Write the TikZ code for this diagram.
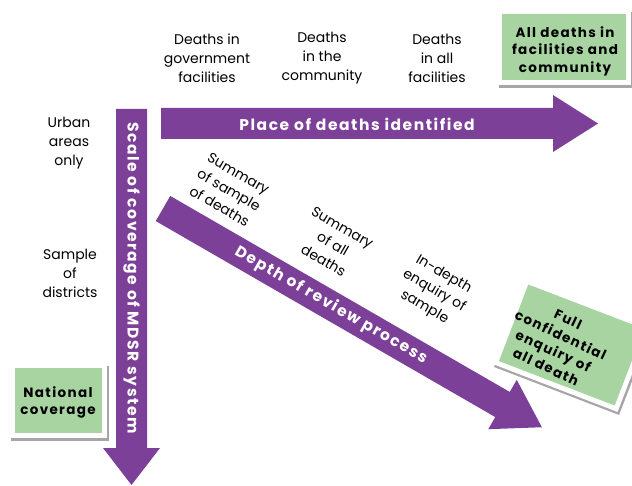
\documentclass[tikz,border=0pt]{standalone}
\usepackage{fontspec}
\setmainfont{Poppins}
\newfontfamily\spacedbold{Poppins}[LetterSpace=10]
\usetikzlibrary{shadows}
\definecolor{mpurple}{RGB}{125,64,152}
\definecolor{mgreen}{RGB}{168,212,162}
\begin{document}
\begin{tikzpicture}[x=1pt,y=-1pt,
  lbl/.style={font=\fontsize{14}{19}\selectfont, align=center, text=black, inner sep=0pt},
  arrowlbl/.style={font=\spacedbold\bfseries\fontsize{15.5}{18}\selectfont, text=white, inner sep=0pt},
  boxlbl/.style={font=\spacedbold\bfseries\fontsize{13.5}{17.5}\selectfont, align=center, text=black, inner sep=0pt},
  frame/.style={fill=white, inner sep=0pt, drop shadow={shadow xshift=1.5pt, shadow yshift=-3pt, opacity=0.35, fill=black}},
  greenbox/.style={fill=mgreen, inner sep=0pt},
  bar/.style={fill=mpurple}]
\useasboundingbox (0,0) rectangle (632,486);
% green boxes
\node[frame, minimum width=134pt, minimum height=76pt] (b1) at (564,47) {};
\node[greenbox, minimum width=124pt, minimum height=66pt] (b1g) at (b1.center) {};
\node[boxlbl] (b1t) at (565,51) {All deaths in\\facilities and\\community};
\node[frame, minimum width=98pt, minimum height=75pt] (b2) at (58,400.5) {};
\node[greenbox, minimum width=87pt, minimum height=65pt] (b2g) at (b2.center) {};
\node[boxlbl] (b2t) at (58,402.5) {National\\coverage};
\node[frame, rotate=-21, minimum width=134pt, minimum height=92pt] (b3) at (571.5,345) {};
\node[greenbox, rotate=-21, minimum width=124pt, minimum height=82pt] (b3g) at (b3.center) {};
\node[boxlbl, rotate=-25] (b3t) at (557,343) {Full\\confidential\\enquiry of\\all death};
% arrows
\fill[bar] (161,108) -- (553,108) -- (553,95) -- (598,123.5) -- (553,152) -- (553,139) -- (161,139) -- cycle;
\node[arrowlbl] (hlab) at (357,124) {Place of deaths identified};
\fill[bar] (116,109) -- (147,109) -- (147,448) -- (160,448) -- (131.5,485) -- (103,448) -- (116,448) -- cycle;
\node[arrowlbl, rotate=-90] (vlab) at (131.5,278) {Scale of coverage of MDSR system};
\begin{scope}[shift={(163,208.5)}, rotate=-30]
\fill[bar] (0,-14.5) -- (392,-14.5) -- (392,-28.5) -- (437.5,0) -- (392,28.5) -- (392,14.5) -- (0,14.5) -- cycle;
\end{scope}
\node[arrowlbl, rotate=-30] (dlab) at (331,305.5) {Depth of review process};
% labels
\node[lbl] (t1) at (207,58) {Deaths in\\government\\facilities};
\node[lbl] (t2) at (322,58) {Deaths\\in the\\community};
\node[lbl] (t3) at (437,58) {Deaths\\in all\\facilities};
\node[lbl] (l1) at (69,143) {Urban\\areas\\only};
\node[lbl] (l2) at (70,273) {Sample\\of\\districts};
\node[lbl, rotate=-30] (d1) at (229,190) {Summary\\of sample\\of deaths};
\node[lbl, rotate=-30] (d2) at (333,244) {Summary\\of all\\deaths};
\node[lbl, rotate=-30] (d3) at (434,291) {In-depth\\enquiry of\\sample};
\end{tikzpicture}
\end{document}
